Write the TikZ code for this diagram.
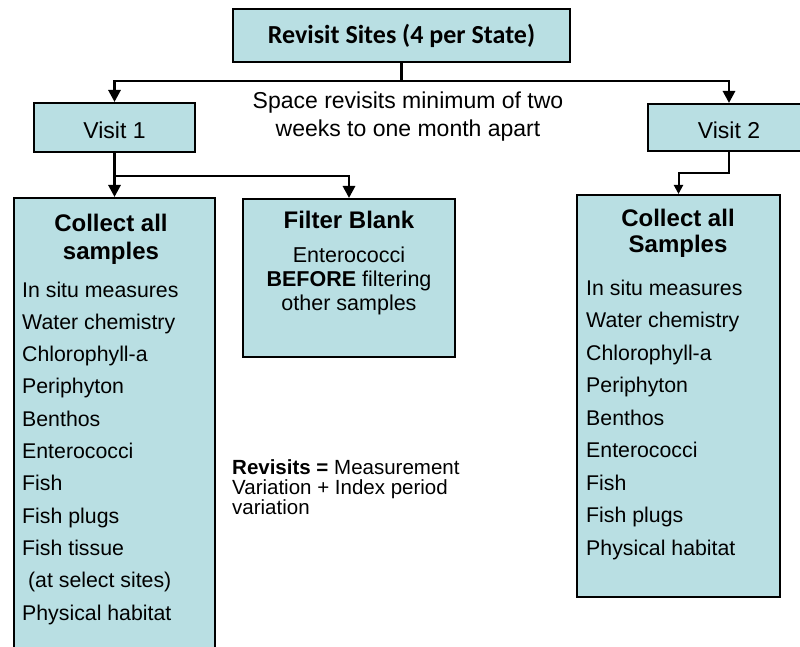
\documentclass[tikz,border=0pt]{standalone}
\usepackage{fontspec}
\setmainfont{Liberation Sans}
\newfontfamily\calib{Carlito}
\usetikzlibrary{arrows.meta}
\definecolor{boxfill}{RGB}{185,223,227}
\tikzset{
  box/.style={draw=black, line width=2pt, fill=boxfill, rectangle, inner sep=0pt},
  conn/.style={line width=2.8pt, -{Triangle[length=12pt,width=12pt]}},
  connthin/.style={line width=2pt, -{Triangle[length=9pt,width=9pt]}},
  item/.style={anchor=base west, inner sep=0pt, font=\fontsize{21.3}{24}\selectfont},
  head/.style={align=center, inner sep=0pt, font=\fontsize{24}{28}\selectfont\bfseries},
}
\begin{document}
\begin{tikzpicture}[x=1pt,y=-1pt]
\clip (0,0) rectangle (800,647);
\fill[white] (0,0) rectangle (800,647);
% boxes
\node[box, minimum width=337pt, minimum height=53pt] (top) at (401.5,35.5) {};
\node[font=\calib\fontsize{26}{30}\selectfont\bfseries] (toptext) at (401.5,36) {Revisit Sites (4 per State)};
\node[box, minimum width=161pt, minimum height=49pt] (v1) at (114.5,127.5) {};
\node[font=\fontsize{23}{26}\selectfont] (v1t) at (114.5,130) {Visit 1};
\node[box, minimum width=162pt, minimum height=47pt] (v2) at (729,127.5) {};
\node[font=\fontsize{23}{26}\selectfont] (v2t) at (729,130) {Visit 2};
\node[box, minimum width=201pt, minimum height=462pt] (left) at (114.5,429) {};
\node[box, minimum width=212pt, minimum height=158pt] (filter) at (349,278) {};
\node[box, minimum width=203pt, minimum height=402pt] (right) at (678.5,396) {};
% connectors
\coordinate (j1) at (401.5,81);
\draw[conn] (top.south) -- (j1) -| (v1.north);
\draw[conn] (j1) -| (v2.north);
\coordinate (j2) at (114.5,176);
\draw[conn] (v1.south) -- (left.north);
\draw[conn] (j2) -| (filter.north);
\coordinate (j3) at (729,173);
\draw[connthin] (v2.south) -- (j3) -| (right.north);
% free text
\node[align=center, inner sep=0pt, font=\fontsize{23}{28}\selectfont] (space) at (408,117) {Space revisits minimum of two\\weeks to one month apart};
\node[align=left, anchor=west, inner sep=0pt, font=\fontsize{20.5}{20}\selectfont] (rev) at (232,487) {\textbf{Revisits =} Measurement\\Variation + Index period\\variation};
% left box text
\node[head] (lh) at (111,239) {Collect all\\samples};
\foreach [count=\i from 0] \t in {In situ measures, Water chemistry, Chlorophyll-a, Periphyton, Benthos, Enterococci, Fish, Fish plugs, Fish tissue, {\ (at select sites)}, Physical habitat}
  \node[item] (li\i) at (22,297+32.3*\i) {\t};
% filter text
\node[head] (fh) at (349,220) {Filter Blank};
\node[align=center, inner sep=0pt, font=\fontsize{21.5}{24}\selectfont] (fb) at (349,281) {Enterococci\\\textbf{BEFORE} filtering\\other samples};
% right box text
\node[head, font=\fontsize{24}{26}\selectfont\bfseries] (rh) at (678,233) {Collect all\\Samples};
\foreach [count=\i from 0] \t in {In situ measures, Water chemistry, Chlorophyll-a, Periphyton, Benthos, Enterococci, Fish, Fish plugs, Physical habitat}
  \node[item] (ri\i) at (586,295+32.5*\i) {\t};
\end{tikzpicture}
\end{document}
